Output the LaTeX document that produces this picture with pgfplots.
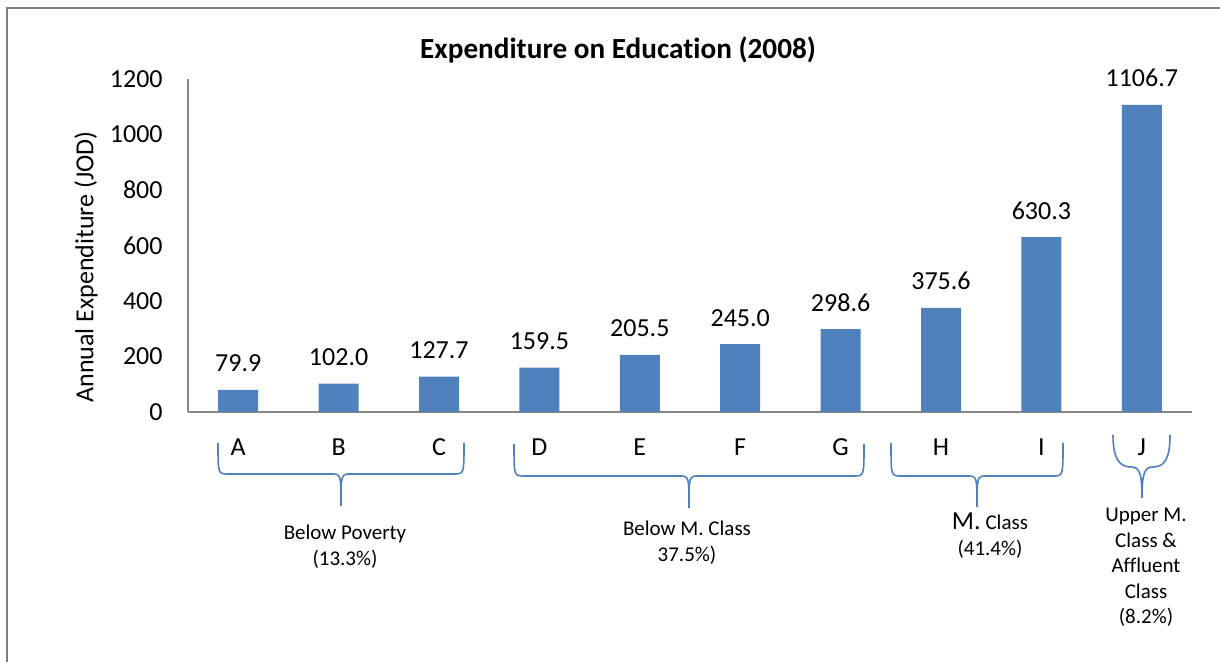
\documentclass[border=0pt]{standalone}
\usepackage{pgfplots}
\pgfplotsset{compat=1.18}
\usepackage{fontspec}
\setmainfont{Carlito}[Ligatures=NoCommon]
\definecolor{barblue}{HTML}{4F81BD}
\definecolor{axgray}{HTML}{868686}
\definecolor{framegray}{HTML}{7F7F7F}
% brace: xl, xr, xtip, ytop, ymid, ybottom, radius
\newcommand{\brc}[7]{\draw[barblue, line width=0.8pt] (#1,#4) .. controls (#1,#5) .. (#1+#7,#5) -- (#3-#7,#5) .. controls (#3,#5) .. (#3,#6) .. controls (#3,#5) .. (#3+#7,#5) -- (#2-#7,#5) .. controls (#2,#5) .. (#2,#4);}
\pgfplotstableread{
x y
0 79.9
1 102.0
2 127.7
3 159.5
4 205.5
5 245.0
6 298.6
7 375.6
8 630.3
9 1106.7
}\datatable
\begin{document}
\begin{tikzpicture}
\useasboundingbox (0pt,0pt) rectangle (610pt,331pt);
\begin{axis}[
  at={(94pt,125pt)}, anchor=south west,
  width=502pt, height=166.5pt, scale only axis,
  xmin=-0.5, xmax=9.5, ymin=0, ymax=1200,
  axis x line=bottom, axis y line=left,
  axis line style={-, axgray, line width=0.6pt},
  major tick length=0pt,
  ytick={0,200,...,1200},
  xtick={0,...,9},
  xticklabels={A,B,C,D,E,F,G,H,I,J},
  /pgf/number format/assume math mode=true,
  /pgf/number format/1000 sep={},
  yticklabel style={anchor=east, inner sep=0pt, xshift=-12.5pt, font=\fontsize{13}{15}\selectfont},
  xticklabel style={anchor=center, inner sep=0pt, yshift=-17.5pt, font=\fontsize{13}{15}\selectfont},
  ybar, bar width=20pt,
  nodes near coords,
  every node near coord/.append style={anchor=base, inner sep=0pt, yshift=9pt, font=\fontsize{13}{15}\selectfont, /pgf/number format/.cd, fixed, fixed zerofill, precision=1, 1000 sep={}},
  clip=false,
]
\addplot[fill=barblue, draw=none] table[x=x, y=y] {\datatable};
\end{axis}
\begin{scope}[shift={(0pt,331pt)}, x=0.5pt, y=-0.5pt]
\draw[framegray, line width=0.6pt] (7,662) -- (7,8) -- (1220,8);
\node[font=\bfseries\fontsize{14.6}{17}\selectfont] at (618,50) {Expenditure on Education (2008)};
\node[rotate=90, font=\fontsize{13}{15}\selectfont] at (86,267) {Annual Expenditure (JOD)};
\brc{218}{464}{341}{443}{474}{506}{10}
\brc{514}{864}{689}{444}{476}{508}{10}
\brc{891}{1063}{977}{443}{476}{507}{10}
\draw[barblue, line width=0.8pt] (1113,435) .. controls (1113,458) and (1119,467) .. (1131,467) .. controls (1139,467) and (1142,472) .. (1142,498) .. controls (1142,472) and (1145,467) .. (1153,467) .. controls (1165,467) and (1170,458) .. (1170,435);
\node[align=center, font=\fontsize{10.5}{12.8}\selectfont, anchor=north] at (345,518) {Below Poverty\\(13.3\%)};
\node[align=center, font=\fontsize{10.5}{12.8}\selectfont, anchor=north] at (687,514) {Below M. Class\\37.5\%)};
\node[align=center, font=\fontsize{10.5}{12.8}\selectfont, anchor=north] at (990,506) {{\fontsize{13}{12.8}\selectfont M.} Class\\(41.4\%)};
\node[align=center, font=\fontsize{10.5}{12.8}\selectfont, anchor=north] at (1146,501) {Upper M.\\Class \&\\Affluent\\Class\\(8.2\%)};
\end{scope}
\end{tikzpicture}
\end{document}
